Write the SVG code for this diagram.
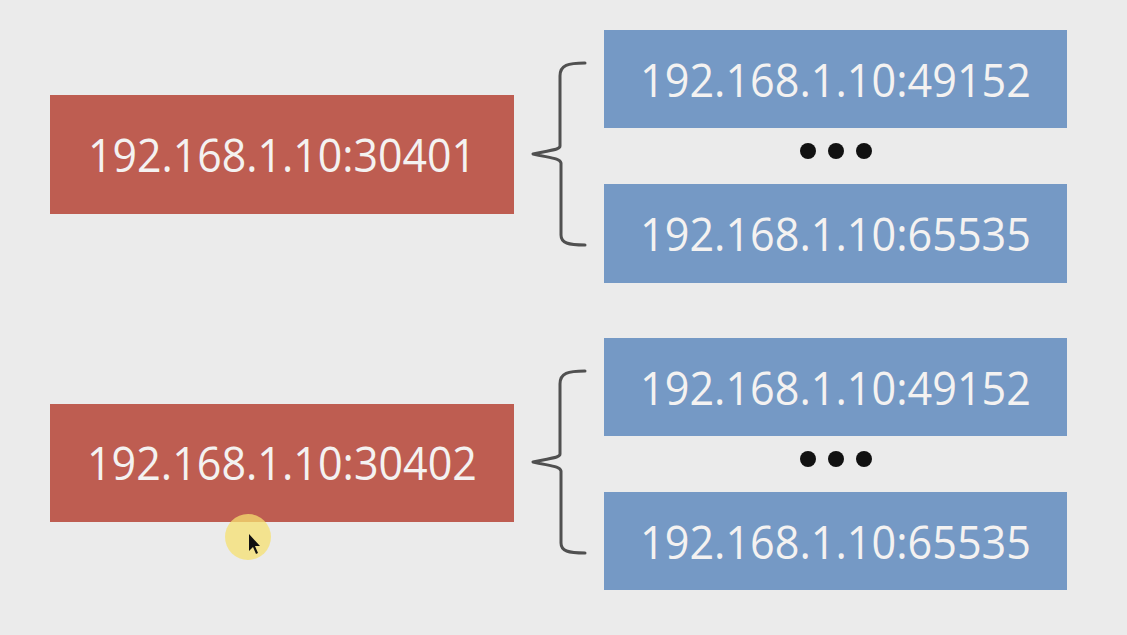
<svg xmlns="http://www.w3.org/2000/svg" width="1127" height="635" viewBox="0 0 1127 635">
<defs>
<style>
.red{fill:#be5d51;}
.blue{fill:#7599c5;}
.t{font-family:"Open Sans","Noto Sans",sans-serif;font-size:46px;fill:#f4f2f1;text-anchor:middle;}
.brace{fill:none;stroke:#505050;stroke-width:3;stroke-linecap:round;stroke-linejoin:round;}
.dot{fill:#111;}
</style>
</defs>
<rect width="1127" height="635" fill="#ebebeb"/>
<g id="node-red1"><rect class="red" x="50" y="95" width="464" height="119"/><text class="t" x="282" y="172" textLength="388" lengthAdjust="spacingAndGlyphs">192.168.1.10:30401</text></g>
<g id="node-blue1"><rect class="blue" x="604" y="30" width="463" height="98"/><text class="t" x="835.5" y="97" textLength="391" lengthAdjust="spacingAndGlyphs">192.168.1.10:49152</text></g>
<g id="node-dots1"><circle class="dot" cx="808" cy="151" r="8"/><circle class="dot" cx="836" cy="151" r="8"/><circle class="dot" cx="864" cy="151" r="8"/></g>
<g id="node-blue2"><rect class="blue" x="604" y="184" width="463" height="99"/><text class="t" x="835.5" y="251" textLength="391" lengthAdjust="spacingAndGlyphs">192.168.1.10:65535</text></g>
<g id="node-red2"><rect class="red" x="50" y="404" width="464" height="118"/><text class="t" x="282" y="480" textLength="390" lengthAdjust="spacingAndGlyphs">192.168.1.10:30402</text></g>
<g id="node-blue3"><rect class="blue" x="604" y="338" width="463" height="98"/><text class="t" x="835.5" y="405" textLength="391" lengthAdjust="spacingAndGlyphs">192.168.1.10:49152</text></g>
<g id="node-dots2"><circle class="dot" cx="808" cy="459" r="8"/><circle class="dot" cx="836" cy="459" r="8"/><circle class="dot" cx="864" cy="459" r="8"/></g>
<g id="node-blue4"><rect class="blue" x="604" y="492" width="463" height="98"/><text class="t" x="835.5" y="559" textLength="391" lengthAdjust="spacingAndGlyphs">192.168.1.10:65535</text></g>
<g id="connectors">
<path class="brace" d="M585,63 C568,63 560,65 560,76 L560,146 C560,150 550,150 533,154 C550,158 560,158 561,163 L561,235 C561,243 568,245 585,245"/>
<path class="brace" d="M585,371 C568,371 560,373 560,384 L560,454 C560,458 550,458 533,462 C550,466 560,466 561,471 L561,543 C561,551 568,553 585,553"/>
</g>
<g id="cursor">
<circle cx="248" cy="537" r="23" fill="#f5e070" opacity="0.75"/>
<path d="M249,534 L249,551 L253,547 L256,554 L258,553 L255,546 L260,546 Z" fill="#111"/>
</g>
</svg>
